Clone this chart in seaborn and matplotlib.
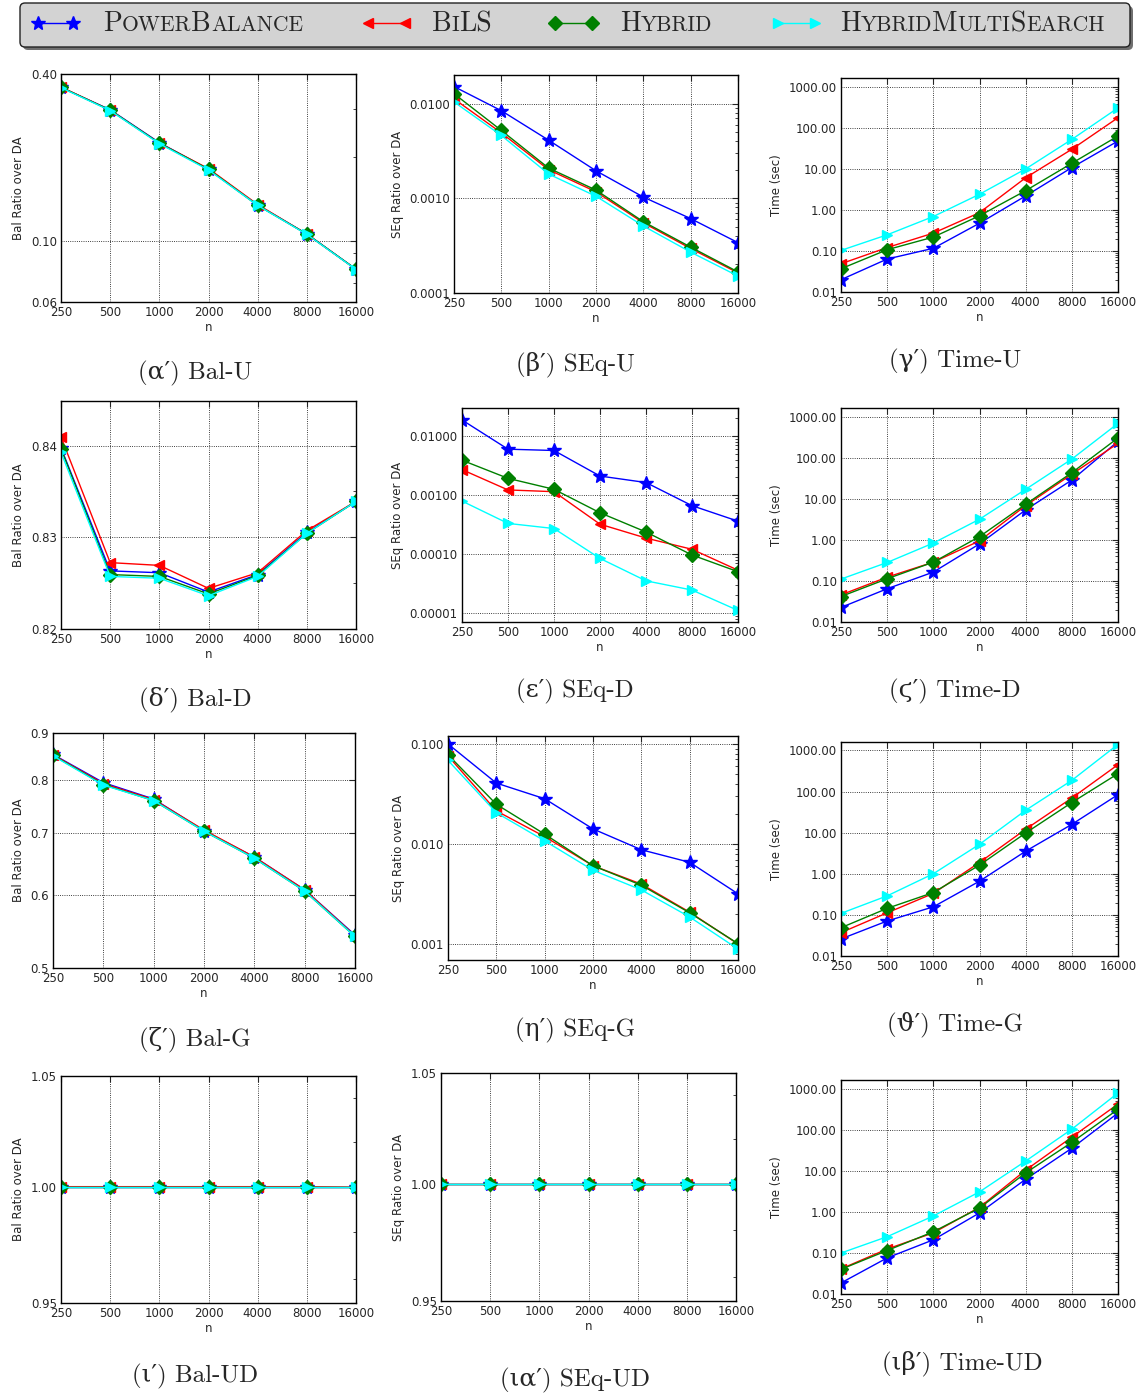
import matplotlib
matplotlib.use('Agg')
import matplotlib.pyplot as plt
import pandas as pd
import seaborn as sns
from matplotlib.lines import Line2D
from matplotlib.patches import FancyBboxPatch
from matplotlib.ticker import FixedLocator, FixedFormatter, NullLocator, NullFormatter
from matplotlib.offsetbox import TextArea, HPacker, AnnotationBbox

# ---- data ----
n_values = [250, 500, 1000, 2000, 4000, 8000, 16000]
algos = ['PowerBalance', 'BiLS', 'Hybrid', 'HybridMultiSearch']
colors = {'PowerBalance': 'blue', 'BiLS': 'red', 'Hybrid': 'green', 'HybridMultiSearch': 'cyan'}
markers = {'PowerBalance': '*', 'BiLS': '<', 'Hybrid': 'D', 'HybridMultiSearch': '>'}

bal_u = {
    'PowerBalance':      [0.358, 0.297, 0.226, 0.181, 0.1345, 0.1057, 0.0788],
    'BiLS':              [0.359, 0.296, 0.225, 0.182, 0.135, 0.1055, 0.0787],
    'Hybrid':            [0.358, 0.296, 0.225, 0.181, 0.134, 0.1056, 0.0788],
    'HybridMultiSearch': [0.357, 0.295, 0.224, 0.180, 0.134, 0.1053, 0.0786],
}
seq_u = {
    'PowerBalance':      [0.0151, 0.0084, 0.0041, 0.00195, 0.00103, 0.00061, 0.00034],
    'BiLS':              [0.0112, 0.0049, 0.0020, 0.00117, 0.00055, 0.000295, 0.000163],
    'Hybrid':            [0.0127, 0.0052, 0.00208, 0.00122, 0.000566, 0.000305, 0.000167],
    'HybridMultiSearch': [0.0104, 0.0046, 0.0018, 0.00105, 0.00051, 0.00027, 0.000151],
}
time_u = {
    'PowerBalance':      [0.020, 0.064, 0.117, 0.48, 2.23, 11.0, 49],
    'BiLS':              [0.049, 0.122, 0.275, 0.87, 6.2, 30.8, 182],
    'Hybrid':            [0.037, 0.108, 0.22, 0.73, 3.0, 14.0, 65],
    'HybridMultiSearch': [0.104, 0.25, 0.70, 2.45, 10.2, 53.7, 316],
}
bal_d = {
    'PowerBalance':      [0.8398, 0.8263, 0.8261, 0.8240, 0.8259, 0.8305, 0.8339],
    'BiLS':              [0.8410, 0.8272, 0.8269, 0.8244, 0.8261, 0.8307, 0.8339],
    'Hybrid':            [0.8397, 0.8259, 0.8257, 0.8238, 0.8258, 0.8304, 0.8339],
    'HybridMultiSearch': [0.8393, 0.8257, 0.8255, 0.8236, 0.8257, 0.8304, 0.8339],
}
seq_d = {
    'PowerBalance':      [0.0188, 0.0060, 0.0057, 0.0021, 0.00163, 0.00066, 0.00036],
    'BiLS':              [0.0027, 0.00122, 0.00114, 0.00032, 0.000186, 0.00012, 0.000053],
    'Hybrid':            [0.0039, 0.00192, 0.00125, 0.0005, 0.000236, 0.000096, 0.00005],
    'HybridMultiSearch': [0.00079, 0.00033, 0.00027, 0.000084, 0.000035, 0.0000244, 0.000011],
}
time_d = {
    'PowerBalance':      [0.0227, 0.065, 0.166, 0.81, 5.5, 29.5, 260],
    'BiLS':              [0.046, 0.125, 0.29, 0.96, 7.0, 41, 232],
    'Hybrid':            [0.042, 0.114, 0.29, 1.22, 7.55, 44.6, 316],
    'HybridMultiSearch': [0.112, 0.285, 0.85, 3.25, 17.5, 96, 715],
}
bal_g = {
    'PowerBalance':      [0.853, 0.795, 0.763, 0.705, 0.660, 0.608, 0.543],
    'BiLS':              [0.852, 0.793, 0.762, 0.706, 0.660, 0.608, 0.542],
    'Hybrid':            [0.851, 0.791, 0.760, 0.704, 0.658, 0.606, 0.541],
    'HybridMultiSearch': [0.850, 0.790, 0.760, 0.704, 0.658, 0.606, 0.541],
}
seq_g = {
    'PowerBalance':      [0.100, 0.0407, 0.0284, 0.0142, 0.0088, 0.0066, 0.0032],
    'BiLS':              [0.076, 0.0215, 0.0119, 0.0061, 0.0040, 0.0021, 0.00101],
    'Hybrid':            [0.078, 0.025, 0.0126, 0.0061, 0.0039, 0.00207, 0.00102],
    'HybridMultiSearch': [0.0686, 0.0206, 0.0108, 0.0055, 0.0035, 0.00188, 0.0009],
}
time_g = {
    'PowerBalance':      [0.026, 0.071, 0.157, 0.66, 3.54, 15.9, 84],
    'BiLS':              [0.037, 0.112, 0.333, 1.88, 12.1, 69.5, 450],
    'Hybrid':            [0.0487, 0.144, 0.35, 1.62, 9.8, 54, 272],
    'HybridMultiSearch': [0.109, 0.29, 1.0, 5.2, 35, 187, 1400],
}
bal_ud = {
    'PowerBalance':      [1.0, 1.0, 1.0, 1.0, 1.0, 1.0, 1.0],
    'BiLS':              [1.0, 1.0, 1.0, 1.0, 1.0, 1.0, 0.9998],
    'Hybrid':            [1.0, 1.0, 1.0, 1.0, 1.0, 1.0, 1.0],
    'HybridMultiSearch': [1.0, 1.0, 1.0, 1.0, 1.0, 1.0, 1.0],
}
seq_ud = {
    'PowerBalance':      [1.0, 1.0, 1.0, 1.0, 1.0, 1.0, 1.0],
    'BiLS':              [1.0, 1.0, 1.0, 1.0, 1.0, 1.0, 1.0],
    'Hybrid':            [1.0, 1.0, 1.0, 1.0, 1.0, 1.0, 1.0],
    'HybridMultiSearch': [1.0, 1.0, 1.0, 1.0, 1.0, 1.0, 1.0],
}
time_ud = {
    'PowerBalance':      [0.0186, 0.076, 0.21, 0.95, 6.3, 36, 260],
    'BiLS':              [0.041, 0.125, 0.31, 1.3, 10.5, 67, 430],
    'Hybrid':            [0.04, 0.115, 0.33, 1.25, 9, 50, 320],
    'HybridMultiSearch': [0.1, 0.25, 0.8, 3.1, 17.5, 105, 800],
}

time_ticks = [0.01, 0.1, 1, 10, 100, 1000]

# (data, ylabel, ylim, yticks, fmt, caption, axes box in px (l, r, t, b), caption centre in px)
panels = [
    (bal_u, 'Bal Ratio over DA', (0.06, 0.40), [0.06, 0.1, 0.4], '%.2f', '(α′) Bal-U', (61, 356, 74, 302), (195, 373)),
    (seq_u, 'SEq Ratio over DA', (0.0001, 0.02), [1e-4, 1e-3, 1e-2], '%.4f', '(β′) SEq-U', (454, 738, 75, 293), (575, 364)),
    (time_u, 'Time (sec)', (0.01, 1700), time_ticks, '%.2f', '(γ′) Time-U', (841, 1118, 78, 292), (955, 361)),
    (bal_d, 'Bal Ratio over DA', (0.82, 0.845), [0.82, 0.83, 0.84], '%.2f', '(δ′) Bal-D', (61, 356, 401, 629), (195, 699)),
    (seq_d, 'SEq Ratio over DA', (7e-6, 0.03), [1e-5, 1e-4, 1e-3, 1e-2], '%.5f', '(ε′) SEq-D', (462, 738, 408, 622), (575, 691)),
    (time_d, 'Time (sec)', (0.01, 1700), time_ticks, '%.2f', '(ϛ′) Time-D', (841, 1118, 408, 622), (955, 691)),
    (bal_g, 'Bal Ratio over DA', (0.5, 0.9), [0.5, 0.6, 0.7, 0.8, 0.9], '%.1f', '(ζ′) Bal-G', (53, 355, 733, 968), (195, 1039)),
    (seq_g, 'SEq Ratio over DA', (0.0007, 0.12), [0.001, 0.01, 0.1], '%.3f', '(η′) SEq-G', (448, 738, 736, 960), (575, 1030)),
    (time_g, 'Time (sec)', (0.01, 1600), time_ticks, '%.2f', '(ϑ′) Time-G', (841, 1118, 742, 956), (955, 1024)),
    (bal_ud, 'Bal Ratio over DA', (0.95, 1.05), [0.95, 1.0, 1.05], '%.2f', '(ι′) Bal-UD', (61, 356, 1076, 1303), (195, 1376)),
    (seq_ud, 'SEq Ratio over DA', (0.95, 1.05), [0.95, 1.0, 1.05], '%.2f', '(ια′) SEq-UD', (441, 736, 1073, 1301), (575, 1380)),
    (time_ud, 'Time (sec)', (0.01, 1660), time_ticks, '%.2f', '(ιβ′) Time-UD', (841, 1118, 1080, 1294), (962, 1363)),
]

W, H = 1145, 1393
serif = ['cmr10', 'DejaVu Serif', 'DejaVu Sans']

sns.set_style('white')
plt.rcParams['font.family'] = ['DejaVu Sans']
plt.rcParams['axes.unicode_minus'] = False

fig = plt.figure(figsize=(W / 100, H / 100), dpi=100)

for data, ylabel, ylim, yticks, fmt, caption, box, cap in panels:
    l, r, t, b = box
    ax = fig.add_axes([l / W, 1 - b / H, (r - l) / W, (b - t) / H])

    df = pd.DataFrame([(n, v, a) for a in algos for n, v in zip(n_values, data[a])],
                      columns=['n', 'value', 'algo'])
    sns.lineplot(data=df, x='n', y='value', hue='algo', style='algo', hue_order=algos,
                 style_order=algos, palette=colors, markers=markers, dashes=False,
                 linewidth=1, markersize=7, legend=False, ax=ax)
    for line in ax.lines:
        line.set_markeredgecolor(line.get_color())
        line.set_markeredgewidth(1)
        if line.get_marker() == '*':
            line.set_markersize(10)

    ax.set_xscale('log', base=2)
    ax.set_yscale('log')
    ax.set_xlim(250, 16000)
    ax.set_ylim(*ylim)
    ax.xaxis.set_major_locator(FixedLocator(n_values))
    ax.xaxis.set_major_formatter(FixedFormatter([str(v) for v in n_values]))
    ax.xaxis.set_minor_locator(NullLocator())
    ax.yaxis.set_major_locator(FixedLocator(yticks))
    ax.yaxis.set_major_formatter(FixedFormatter([fmt % v for v in yticks]))
    ax.yaxis.set_minor_formatter(NullFormatter())

    ax.grid(True, which='major', linestyle=':', color='black', linewidth=0.6)
    ax.tick_params(which='both', direction='in', top=True, right=True, labelsize=8.5, pad=3)
    ax.tick_params(which='major', length=4)
    ax.tick_params(which='minor', length=2)
    for s in ax.spines.values():
        s.set_color('black')
        s.set_linewidth(1)
    ax.set_xlabel('n', fontsize=8.5, labelpad=1)
    ax.set_ylabel(ylabel, fontsize=8.5)

    fig.text(cap[0] / W, 1 - cap[1] / H, caption, ha='center', va='center',
             fontsize=18, family=serif)

# ---- legend bar across the top, small caps labels ----
inch = fig.dpi_scale_trans
shadow = FancyBboxPatch((0.23, (H - 50) / 100), 11.10, 0.44,
                        boxstyle='round,pad=0,rounding_size=0.05',
                        transform=inch, facecolor='#6f6f6f', edgecolor='none', zorder=1)
frame = FancyBboxPatch((0.20, (H - 47) / 100), 11.10, 0.44,
                       boxstyle='round,pad=0,rounding_size=0.05',
                       transform=inch, facecolor='#d3d3d3', edgecolor='#222222',
                       linewidth=1.0, zorder=2)
fig.add_artist(shadow)
fig.add_artist(frame)

legend_items = [
    ('PowerBalance', (38, 73), 103, [('P', 1), ('OWER', 0), ('B', 1), ('ALANCE', 0)]),
    ('BiLS', (368, 405), 432, [('B', 1), ('I', 0), ('LS', 1)]),
    ('Hybrid', (555, 592), 620, [('H', 1), ('YBRID', 0)]),
    ('HybridMultiSearch', (778, 815), 840, [('H', 1), ('YBRID', 0), ('M', 1), ('ULTI', 0), ('S', 1), ('EARCH', 0)]),
]
ly = 24
for algo, (x1, x2), tx, parts in legend_items:
    ms = 10 if markers[algo] == '*' else 7
    fig.add_artist(Line2D([x1 / 100, x2 / 100], [(H - 23) / 100] * 2, transform=inch,
                          color=colors[algo], marker=markers[algo], markersize=ms,
                          markeredgecolor=colors[algo], linewidth=1, zorder=3))
    children = [TextArea(txt, textprops=dict(fontsize=20 if big else 15.5, family=serif))
                for txt, big in parts]
    packed = HPacker(children=children, align='baseline', pad=0, sep=0)
    ab = AnnotationBbox(packed, (tx / W, 1 - ly / H), xycoords='figure fraction',
                        box_alignment=(0, 0.5), frameon=False, zorder=3)
    fig.add_artist(ab)

fig.savefig('out.png', dpi=100, facecolor='white')
